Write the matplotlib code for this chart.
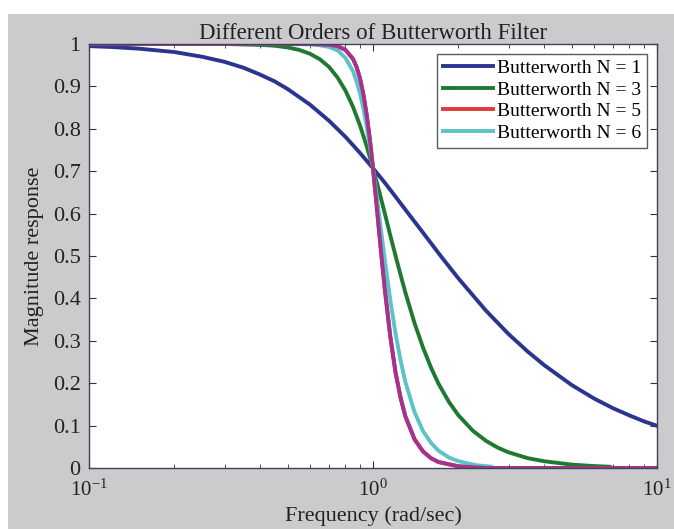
import matplotlib
matplotlib.use('Agg')
import matplotlib.pyplot as plt
from matplotlib.patches import Rectangle
from matplotlib.ticker import LogLocator, FixedLocator

plt.rcParams['font.family'] = ['Liberation Serif', 'DejaVu Serif']

# values
w1 = [0.1, 0.12, 0.15, 0.2, 0.25, 0.3, 0.35, 0.4, 0.45, 0.5, 0.6, 0.7, 0.8, 0.9, 1.0, 1.1, 1.2, 1.35, 1.5,
      1.75, 2.0, 2.5, 3.0, 3.5, 4.0, 5.0, 6.0, 7.0, 8.0, 9.0, 10.0]
m1 = [0.995, 0.993, 0.989, 0.981, 0.970, 0.958, 0.944, 0.928, 0.912, 0.894, 0.857, 0.819, 0.781, 0.743, 0.707,
      0.673, 0.640, 0.595, 0.555, 0.496, 0.447, 0.371, 0.316, 0.275, 0.243, 0.196, 0.164, 0.141, 0.124, 0.110, 0.0995]

w3 = [0.1, 0.2, 0.3, 0.4, 0.45, 0.5, 0.55, 0.6, 0.65, 0.7, 0.75, 0.8, 0.85, 0.9, 0.95, 1.0, 1.05, 1.1, 1.15,
      1.2, 1.25, 1.3, 1.4, 1.5, 1.6, 1.7, 1.85, 2.0, 2.25, 2.5, 2.75, 3.0, 3.5, 4.0, 5.0, 6.0, 6.8]
m3 = [1.0, 1.0, 1.0, 0.998, 0.996, 0.992, 0.986, 0.977, 0.964, 0.946, 0.921, 0.890, 0.852, 0.808, 0.759, 0.707,
      0.654, 0.601, 0.549, 0.501, 0.456, 0.414, 0.342, 0.284, 0.237, 0.199, 0.156, 0.124, 0.0875, 0.064, 0.048,
      0.037, 0.0233, 0.016, 0.008, 0.0046, 0.003]

w6 = [0.1, 0.3, 0.5, 0.6, 0.65, 0.7, 0.75, 0.8, 0.85, 0.875, 0.9, 0.925, 0.95, 0.975, 1.0, 1.025, 1.05, 1.075,
      1.1, 1.15, 1.2, 1.25, 1.3, 1.4, 1.5, 1.6, 1.7, 1.85, 2.0, 2.3, 2.6]
m6 = [1.0, 1.0, 1.0, 0.999, 0.997, 0.993, 0.985, 0.967, 0.936, 0.912, 0.883, 0.848, 0.806, 0.759, 0.707, 0.653,
      0.598, 0.544, 0.492, 0.397, 0.318, 0.254, 0.203, 0.132, 0.087, 0.0595, 0.041, 0.0248, 0.016, 0.0068, 0.0032]

# steepest curve (drawn on top, magenta); the red one lies underneath it
w8 = [0.1, 0.3, 0.5, 0.6, 0.7, 0.75, 0.8, 0.85, 0.875, 0.9, 0.925, 0.95, 0.975, 1.0, 1.025, 1.05, 1.075, 1.1,
      1.15, 1.2, 1.25, 1.3, 1.4, 1.5, 1.6, 1.7, 2.0, 2.5, 5.0, 10.0]
m8 = [1.0, 1.0, 1.0, 1.0, 0.998, 0.995, 0.986, 0.965, 0.946, 0.919, 0.881, 0.833, 0.775, 0.707, 0.634, 0.560,
      0.489, 0.423, 0.311, 0.226, 0.166, 0.122, 0.068, 0.039, 0.0233, 0.014, 0.004, 0.0, 0.0, 0.0]

labels = ['Butterworth N = 1', 'Butterworth N = 3', 'Butterworth N = 5', 'Butterworth N = 6']

fig = plt.figure(figsize=(6.74, 5.29), dpi=100, facecolor='white')
fig.patches.append(Rectangle((8 / 674, 0), 1, 1 - 14 / 529, transform=fig.transFigure,
                             facecolor='#cbcbce', edgecolor='none', zorder=-10))

ax = fig.add_axes([89 / 674, 61 / 529, 568 / 674, 424 / 529])
lw = 2.8
ax.plot(w1, m1, color='#2b3590', lw=lw, label=labels[0])
ax.plot(w3, m3, color='#1f7a30', lw=lw, label=labels[1])
ax.plot(w8, m8, color='#e03a3a', lw=lw, label=labels[2])
ax.plot(w6, m6, color='#5cc3c6', lw=lw, label=labels[3])
ax.plot(w8, m8, color='#a3338f', lw=lw)

ax.set_xscale('log')
ax.set_xlim(0.1, 10)
ax.set_ylim(0, 1)
ax.yaxis.set_major_locator(FixedLocator([0, 0.1, 0.2, 0.3, 0.4, 0.5, 0.6, 0.7, 0.8, 0.9, 1]))
ax.set_yticklabels(['0', '0.1', '0.2', '0.3', '0.4', '0.5', '0.6', '0.7', '0.8', '0.9', '1'])
ax.xaxis.set_major_locator(FixedLocator([0.1, 1, 10]))
ax.set_xticklabels(['$\\mathregular{10^{-1}}$', '$\\mathregular{10^{0}}$', '$\\mathregular{10^{1}}$'])
ax.xaxis.set_minor_locator(LogLocator(base=10, subs=range(2, 10)))

ax.tick_params(which='both', direction='in', top=True, right=True, colors='#333333', labelcolor='#222222',
               labelsize=16)
ax.tick_params(axis='x', labelsize=15, pad=8)
ax.tick_params(axis='y', pad=6)
ax.tick_params(which='major', length=5)
ax.tick_params(which='minor', length=3)
for s in ax.spines.values():
    s.set_color('#3a4650')
    s.set_linewidth(1.0)

ax.set_title('Different Orders of Butterworth Filter', fontsize=16.5, color='#222222', pad=3)
ax.set_xlabel('Frequency (rad/sec)', fontsize=16, color='#222222', labelpad=4)
ax.set_ylabel('Magnitude response', fontsize=16, color='#222222', labelpad=6)

leg = ax.legend(loc='upper right', fontsize=14, frameon=True, fancybox=False, handlelength=2.6,
                handletextpad=0.2, labelspacing=0.2, borderpad=0.3, borderaxespad=0.5)
leg.get_frame().set_edgecolor('#333333')
leg.get_frame().set_linewidth(1.0)

fig.savefig('out.png', dpi=100, facecolor=fig.get_facecolor())
